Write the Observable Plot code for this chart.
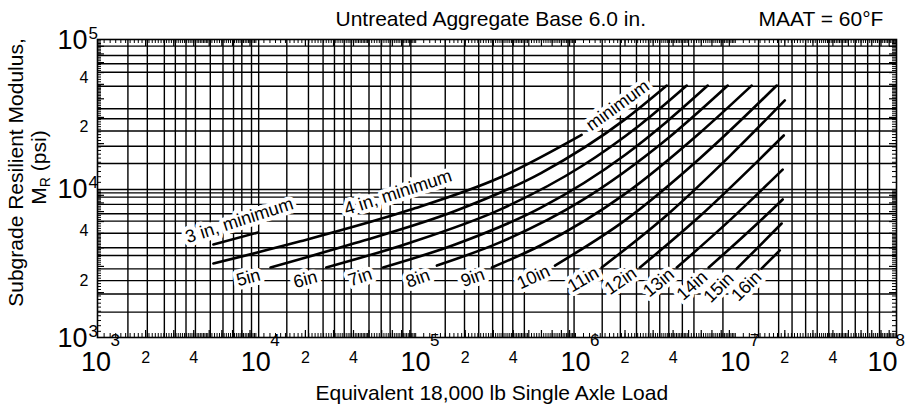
<!DOCTYPE html>
<html><head><meta charset="utf-8">
<script src="https://cdn.jsdelivr.net/npm/d3@7"></script>
<script src="https://cdn.jsdelivr.net/npm/@observablehq/plot@0.6"></script>
<style>body{margin:0;background:#fff;} #chart svg{display:block}</style>
</head><body><div id="chart"></div>
<script>
// ---- text ----
const titleText = "Untreated Aggregate Base 6.0 in.";
const tempText = "MAAT = 60°F";
const xTitle = "Equivalent 18,000 lb Single Axle Load";
const yTitle1 = "Subgrade Resilient Modulus,";
const yTitle2 = "MR (psi)";

// ---- axes ----
const xDecades = [1e3, 1e4, 1e5, 1e6, 1e7, 1e8];
const xDecadeExps = ["3", "4", "5", "6", "7", "8"];
const xMinorValues = [2e3, 4e3, 2e4, 4e4, 2e5, 4e5, 2e6, 4e6, 2e7, 4e7];
const xMinorLabels = ["2", "4", "2", "4", "2", "4", "2", "4", "2", "4"];
const yDecades = [1e3, 1e4, 1e5];
const yDecadeExps = ["3", "4", "5"];
const yMinorValues = [2410, 5230, 26100, 55200];
const yMinorLabels = ["2", "4", "2", "4"];

// ---- irregular grid of the original chart ----
const xGrid = [1550, 2050, 2620, 3070, 3580, 4100, 5080, 6100, 7100, 8000, 9200, 10200,
  15300, 20900, 25800, 30400, 35000, 38700, 50000, 59600, 67800, 81400, 91400,
  150000, 198000, 243000, 297000, 343000, 397000, 469000, 880000, 960000,
  1440000, 1870000, 2360000, 2820000, 3300000, 3760000, 4570000, 5400000, 8200000,
  13700000, 18300000, 22200000, 27000000, 31900000, 37700000, 45700000, 55200000, 66000000, 78300000];
const yGrid = [90200, 78100, 68700, 60300, 48600, 34300, 29400, 24300, 19200, 14700,
  9840, 9350, 8750, 7820, 6770, 6040, 5010, 4000, 3550, 2890, 2410, 1960, 1480];

// ---- curves: [ESAL, MR] ----
const c3in  = [[5310, 4210], [10100, 5070]];
const c4in  = [[5310, 3140], [18600, 4420], [90400, 7190], [330000, 11850], [1070000, 22900]];
const c5in  = [[12100, 2950], [41000, 4300], [173000, 7060], [596000, 12700], [2000000, 29100], [3650000, 49100]];
const c6in  = [[27000, 2950], [90400, 4330], [330000, 7220], [1070000, 14100], [2480000, 26700], [4870000, 49100]];
const c7in  = [[61300, 2950], [173000, 4210], [596000, 7440], [2000000, 16800], [3650000, 28100], [6590000, 49100]];
const c8in  = [[133000, 3040], [330000, 4350], [1070000, 8280], [3650000, 21400], [8790000, 49100]];
const c9in  = [[294000, 2950], [596000, 4160], [2000000, 9200], [5870000, 23600], [12400000, 49100]];
const c10in = [[729000, 3040], [2000000, 6110], [5870000, 15900], [17800000, 49100]];
const c11in = [[1430000, 2950], [3650000, 6620], [9040000, 16500], [20000000, 39000]];
const c12in = [[2480000, 2950], [5870000, 6510], [13900000, 15700], [19700000, 22700]];
const c13in = [[4220000, 2950], [9040000, 6110], [19400000, 13400]];
const c14in = [[6680000, 2950], [13900000, 6010], [19400000, 8440]];
const c15in = [[10000000, 2900], [13900000, 4120], [19100000, 5820]];
const c16in = [[14300000, 2900], [18600000, 3840]];
const curveNames = ["3in", "4in", "5in", "6in", "7in", "8in", "9in", "10in", "11in", "12in", "13in", "14in", "15in", "16in"];
const curveSets = [c3in, c4in, c5in, c6in, c7in, c8in, c9in, c10in, c11in, c12in, c13in, c14in, c15in, c16in];

// ---- curve labels ----
const labelTexts = ["3 in, minimum", "4 in, minimum", "minimum", "5in", "6in", "7in", "8in", "9in", "10in", "11in", "12in", "13in", "14in", "15in", "16in"];
const labelX = [7720, 76000, 1800000, 8800, 20000, 44000, 101000, 223000, 535000, 1095000, 1880000, 3250000, 5260000, 7720000, 11500000];
const labelY = [6100, 9400, 36100, 2520, 2450, 2540, 2490, 2520, 2540, 2450, 2390, 2330, 2230, 2160, 2210];
const labelAngle = [-18, -18, -36, -15, -15, -18, -20, -20, -25, -30, -35, -40, -42, -45, -45];

// ---- build tables ----
const curveRows = curveSets.flatMap((pts, i) => pts.map(([x, y]) => ({name: curveNames[i], x, y})));
const labels = labelTexts.map((t, i) => ({t, x: labelX[i], y: labelY[i], a: labelAngle[i]}));
const minorMant = d3.range(11, 50).map(v => v / 10).concat(d3.range(52, 100, 2).map(v => v / 10));
const majorMant = d3.range(2, 10);
const xMinorTicks = xDecades.slice(0, 5).flatMap(d => minorMant.map(m => d * m));
const xMajorTicks = xDecades.slice(0, 5).flatMap(d => majorMant.map(m => d * m));
const yMinorTicks = yDecades.slice(0, 2).flatMap(d => minorMant.map(m => d * m));
const yMajorTicks = yDecades.slice(0, 2).flatMap(d => majorMant.map(m => d * m));
const xDec = xDecades.map((v, i) => ({v, e: xDecadeExps[i]}));
const yDec = yDecades.map((v, i) => ({v, e: yDecadeExps[i]}));
const xMin = xMinorValues.map((v, i) => ({v, t: xMinorLabels[i]}));
const yMin = yMinorValues.map((v, i) => ({v, t: yMinorLabels[i]}));

const W = 905, H = 410;
const mt = 39, mb = 73, ml = 97, mr = 9;
const fw = W - ml - mr, fh = H - mt - mb;

const chart = Plot.plot({
  width: W, height: H,
  marginTop: mt, marginBottom: mb, marginLeft: ml, marginRight: mr,
  style: {fontFamily: "'Liberation Sans', Arial, sans-serif", background: "white", color: "black"},
  x: {type: "log", domain: [1e3, 1e8], axis: null},
  y: {type: "log", domain: [1e3, 1e5], axis: null},
  marks: [
    Plot.ruleX(xGrid, {x: d => d, stroke: "black", strokeWidth: 1.4}),
    Plot.ruleY(yGrid, {y: d => d, stroke: "black", strokeWidth: 1.4}),
    // inner ticks on all four edges
    Plot.tickX(xMinorTicks, {x: d => d, insetTop: fh - 4, stroke: "black", strokeWidth: 1}),
    Plot.tickX(xMinorTicks, {x: d => d, insetBottom: fh - 4, stroke: "black", strokeWidth: 1}),
    Plot.tickX(xMajorTicks, {x: d => d, insetTop: fh - 7, stroke: "black", strokeWidth: 1.2}),
    Plot.tickX(xMajorTicks, {x: d => d, insetBottom: fh - 7, stroke: "black", strokeWidth: 1.2}),
    Plot.tickY(yMinorTicks, {y: d => d, insetRight: fw - 4, stroke: "black", strokeWidth: 1}),
    Plot.tickY(yMinorTicks, {y: d => d, insetLeft: fw - 4, stroke: "black", strokeWidth: 1}),
    Plot.tickY(yMajorTicks, {y: d => d, insetRight: fw - 7, stroke: "black", strokeWidth: 1.2}),
    Plot.tickY(yMajorTicks, {y: d => d, insetLeft: fw - 7, stroke: "black", strokeWidth: 1.2}),
    Plot.frame({stroke: "black", strokeWidth: 1.6}),
    // curves
    Plot.line(curveRows, {x: "x", y: "y", z: "name", stroke: "black", strokeWidth: 2.6, curve: "monotone-x"}),
    // curve labels with white backing
    Plot.text(labels, {x: "x", y: "y", text: "t", rotate: "a", fontSize: 18, fill: "black",
      stroke: "white", strokeWidth: 8, paintOrder: "stroke", textAnchor: "middle", lineAnchor: "middle"}),
    // x axis labels
    Plot.text(xDec.filter(d => d.v < 1e8), {x: "v", text: () => "10", frameAnchor: "bottom", lineAnchor: "bottom", dx: -1.5, dy: 33, fontSize: 27, textAnchor: "middle"}),
    Plot.text(xDec.filter(d => d.v < 1e8), {x: "v", text: "e", frameAnchor: "bottom", lineAnchor: "bottom", dx: 13, dy: 8, fontSize: 17, textAnchor: "start"}),
    Plot.text(xDec.filter(d => d.v >= 1e8), {x: "v", text: () => "10", frameAnchor: "bottom", lineAnchor: "bottom", dx: -14, dy: 33, fontSize: 27, textAnchor: "middle"}),
    Plot.text(xDec.filter(d => d.v >= 1e8), {x: "v", text: "e", frameAnchor: "bottom", lineAnchor: "bottom", dx: -1, dy: 8, fontSize: 17, textAnchor: "start"}),
    Plot.text(xMin, {x: "v", text: "t", frameAnchor: "bottom", lineAnchor: "bottom", dy: 25, fontSize: 16, textAnchor: "middle"}),
    // y axis labels
    Plot.text(yDec, {y: "v", text: () => "10", frameAnchor: "left", lineAnchor: "middle", dx: -10, dy: 1, fontSize: 27, textAnchor: "end"}),
    Plot.text(yDec, {y: "v", text: "e", frameAnchor: "left", lineAnchor: "middle", dx: -9, dy: -6, fontSize: 17, textAnchor: "start"}),
    Plot.text(yMin, {y: "v", text: "t", frameAnchor: "left", lineAnchor: "middle", dx: -9, fontSize: 16, textAnchor: "end"}),
    // titles
    Plot.text([titleText], {text: d => d, frameAnchor: "top-left", dx: 238, dy: -14, lineAnchor: "bottom", textAnchor: "start", fontSize: 21}),
    Plot.text([tempText], {text: d => d, frameAnchor: "top-left", dx: 661, dy: -14, lineAnchor: "bottom", textAnchor: "start", fontSize: 21}),
    Plot.text([xTitle], {text: d => d, frameAnchor: "bottom-left", dx: 218, dy: 62, lineAnchor: "bottom", textAnchor: "start", fontSize: 21}),
    Plot.text([yTitle1], {text: d => d, frameAnchor: "left", dx: -75, dy: -16, rotate: -90, lineAnchor: "bottom", textAnchor: "middle", fontSize: 21}),
    Plot.text([yTitle2], {text: d => d, frameAnchor: "left", dx: -52, dy: -21, rotate: -90, lineAnchor: "bottom", textAnchor: "middle", fontSize: 21})
  ]
});

// subscript R in the y-axis title
d3.select(chart).selectAll("text").filter(function () { return this.textContent === yTitle2; })
  .each(function () {
    const t = d3.select(this);
    t.text(null);
    t.append("tspan").text("M");
    t.append("tspan").attr("font-size", 14).attr("dy", 4).text("R");
    t.append("tspan").attr("dy", -4).text(" (psi)");
  });

document.getElementById("chart").appendChild(chart);
</script>
</body></html>
